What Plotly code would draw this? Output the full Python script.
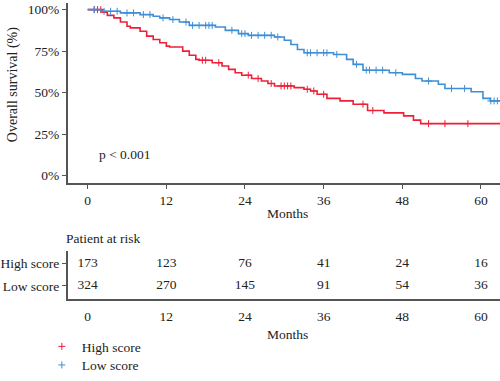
import numpy as np
import plotly.graph_objects as go

# ---- data ----
high_t = [0, 2.2, 3, 4, 5, 6, 6.5, 8, 9, 10, 11, 12, 12.5, 14.5, 15.5, 16.5, 17, 19, 20.5, 21.5,
          22.5, 23.5, 25, 26.5, 27.5, 28.5, 31.5, 33, 34, 35, 36.5, 38.5, 40.5, 42.7, 45.2, 48.2,
          49.7, 50.8, 63]
high_s = [100, 98.5, 96.5, 95, 92.5, 90, 89, 87, 84, 82, 80, 78, 77.5, 75, 72.5, 70, 69.5, 68, 66, 64,
          62, 60.5, 58.5, 57, 55.5, 54, 53, 52, 51, 49, 46.5, 45, 43, 39.2, 37.8, 36,
          33.4, 31.3, 31.3]
low_t = [0, 2, 5, 8, 10, 11, 12.5, 14, 15.5, 19.5, 21, 23, 24.5, 28.5, 30, 31, 32, 33, 37.5, 39.5,
         40.5, 42, 46, 48, 50, 51, 53.5, 54.5, 58.5, 60.3, 61.4, 63]
low_s = [100, 99, 98, 97, 96, 95, 94, 92.5, 90.5, 89.5, 87.5, 85.5, 84.5, 83.5, 81.5, 79, 76, 74, 73, 70,
         67, 63.5, 62, 61, 58.5, 57, 55, 52.5, 50.5, 46.5, 45, 45]
high_cens = [1, 1.5, 2, 17.5, 18, 20, 24.5, 26, 28, 29.5, 30, 30.5, 31, 33.5, 34.5, 36, 42, 43.5,
             52, 54.5, 58]
low_cens = [1, 2.5, 3.5, 4.5, 6, 7, 8.5, 9.5, 11.5, 13, 15, 16, 17, 18, 18.5, 19, 22, 23.5, 24, 25,
            26, 27, 28, 29, 33.5, 34, 35, 36, 36.5, 38, 41, 42.5, 43, 44, 45, 47, 52, 55.5, 57.5,
            61.5, 62, 62.5]

risk_times = [0, 12, 24, 36, 48, 60]
risk_high = [173, 123, 76, 41, 24, 16]
risk_low = [324, 270, 145, 91, 54, 36]
groups = ["High score", "Low score"]
y_ticks = [0, 25, 50, 75, 100]
y_ticktext = ["0%", "25%", "50%", "75%", "100%"]

RED = "#EE2038"
BLUE = "#3F8FD6"
AX = "#555555"
TXT = "#222222"
FONT = "Liberation Serif"
FS = 13.5


def step_at(t_arr, s_arr, times):
    t_arr = np.asarray(t_arr)
    s_arr = np.asarray(s_arr)
    idx = np.searchsorted(t_arr, np.asarray(times), side="right") - 1
    return s_arr[idx]


fig = go.Figure()

for name, t, s, c, col, leg in [(groups[0], high_t, high_s, high_cens, RED, "legend"),
                                (groups[1], low_t, low_s, low_cens, BLUE, "legend2")]:
    fig.add_trace(go.Scatter(x=t, y=s, mode="lines", line=dict(color=col, width=1.6, shape="hv"),
                             showlegend=False, legendgroup=name, hoverinfo="skip",
                             xaxis="x", yaxis="y"))
    fig.add_trace(go.Scatter(x=c, y=step_at(t, s, c), mode="markers", name=name,
                             legendgroup=name, legend=leg,
                             marker=dict(symbol="cross-thin", size=5, color=col,
                                         line=dict(color=col, width=1)),
                             xaxis="x", yaxis="y"))

# risk table numbers
fig.add_trace(go.Scatter(x=risk_times, y=[1] * len(risk_times), mode="text",
                         text=[str(v) for v in risk_high], textposition="middle center",
                         textfont=dict(family=FONT, size=FS, color=TXT),
                         showlegend=False, xaxis="x2", yaxis="y2", hoverinfo="skip"))
fig.add_trace(go.Scatter(x=risk_times, y=[0] * len(risk_times), mode="text",
                         text=[str(v) for v in risk_low], textposition="middle center",
                         textfont=dict(family=FONT, size=FS, color=TXT),
                         showlegend=False, xaxis="x2", yaxis="y2", hoverinfo="skip"))

W, H = 500, 381
px_x = lambda p: p / W
px_y = lambda p: 1 - p / H

xrange = [-3.04, 62.9]
tickfont = dict(family=FONT, size=FS, color=TXT)


def note(text, x, y, **kw):
    d = dict(text=text, x=px_x(x), y=px_y(y), xref="paper", yref="paper",
             xanchor="center", yanchor="middle", showarrow=False)
    d.update(kw)
    return d


def legend_at(y):
    return dict(x=px_x(40), y=px_y(y), xanchor="left", yanchor="middle",
                font=dict(family=FONT, size=FS, color=TXT), bgcolor="rgba(0,0,0,0)",
                tracegroupgap=0, itemwidth=30)


fig.update_layout(
    width=W, height=H,
    margin=dict(l=0, r=0, t=0, b=0),
    paper_bgcolor="white", plot_bgcolor="white",
    font=dict(family=FONT, size=FS, color=TXT),
    xaxis=dict(domain=[px_x(66), 1.0], range=xrange, tickvals=risk_times,
               showgrid=False, zeroline=False, showline=True, linecolor=AX, linewidth=1.5,
               ticks="outside", ticklen=4, tickcolor=AX, tickwidth=1.2, tickfont=tickfont,
               anchor="y"),
    yaxis=dict(domain=[px_y(186), px_y(2)], range=[-4.5, 104], tickvals=y_ticks,
               ticktext=y_ticktext, showgrid=False, zeroline=False, showline=True,
               linecolor=AX, linewidth=1.5, ticks="outside", ticklen=4, tickcolor=AX,
               tickwidth=1.2, tickfont=tickfont, anchor="x"),
    xaxis2=dict(domain=[px_x(66), 1.0], range=xrange, tickvals=risk_times,
                showgrid=False, zeroline=False, showline=True, linecolor=AX, linewidth=1.5,
                ticks="", tickfont=tickfont, anchor="y2", ticklabelstandoff=4),
    yaxis2=dict(domain=[px_y(304), px_y(255)], range=[-0.565, 1.565], tickvals=[1, 0],
                ticktext=groups, showgrid=False, zeroline=False, showline=True,
                linecolor=AX, linewidth=1.5, ticks="outside", ticklen=4, tickcolor=AX,
                tickwidth=1.2, tickfont=tickfont, anchor="x2"),
    legend=legend_at(353),
    legend2=legend_at(372),
    annotations=[
        note("Overall survival (%)", 11, 85, textangle=-90, font=dict(size=14)),
        note("Months", 287, 217),
        dict(text="p < 0.001", x=1.4, y=12.6, xref="x", yref="y", xanchor="left",
             yanchor="middle", showarrow=False),
        note("Patient at risk", 62, 243, xanchor="left"),
        note("Months", 287, 341),
    ],
)

fig.write_html("out.html", config={"displayModeBar": False},
               post_script="document.body.style.margin='0';document.body.style.overflow='hidden';")
